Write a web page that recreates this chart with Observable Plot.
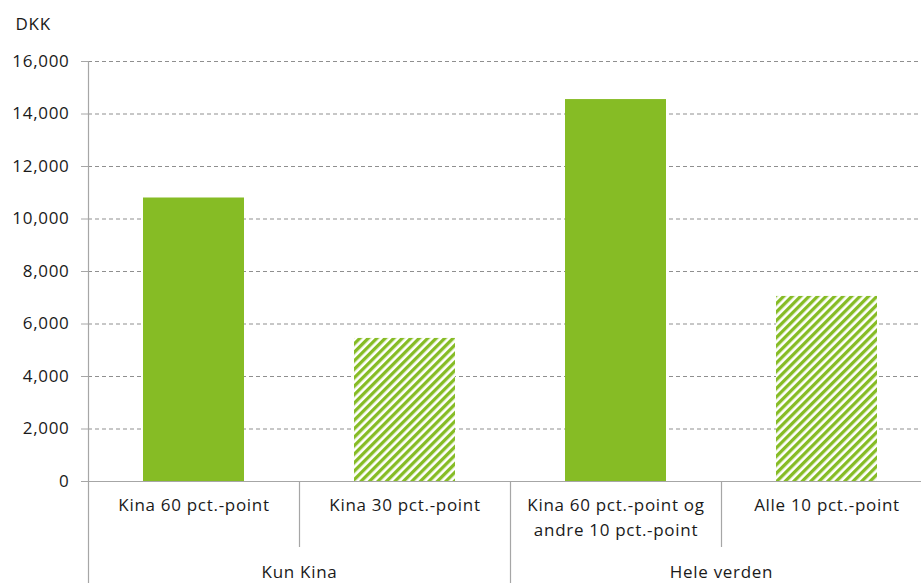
<!DOCTYPE html>
<html>
<head>
<meta charset="utf-8">
<script src="https://cdn.jsdelivr.net/npm/d3@7"></script>
<script src="https://cdn.jsdelivr.net/npm/@observablehq/plot@0.6"></script>
<style>
  html, body { margin: 0; padding: 0; background: #fff; }
  #chart svg { display: block; }
  #chart svg text { letter-spacing: 0.7px; }
</style>
</head>
<body>
<div id="chart"></div>
<script>
// ---- Data ----
const categories = [
  "Kina 60 pct.-point",
  "Kina 30 pct.-point",
  "Kina 60 pct.-point og\nandre 10 pct.-point",
  "Alle 10 pct.-point"
];
const values = [10800, 5450, 14550, 7050];
const hatched = [false, true, false, true];
const groups = ["Kun Kina", "Kun Kina", "Hele verden", "Hele verden"];
const groupLabels = ["Kun Kina", "Hele verden"];
const groupStart = [categories[0], categories[2]];
const yTicks = [0, 2000, 4000, 6000, 8000, 10000, 12000, 14000, 16000];
const unitLabel = "DKK";

const GREEN = "#86bc25";
const AXIS = "#a6a6a6";
const GRID = "#8f8f8f";
const TEXT = "#1a1a1a";
const FS = 17;

const data = categories.map((c, i) => ({category: c, value: values[i], hatched: hatched[i], group: groups[i]}));
const groupData = groupLabels.map((g, i) => ({label: g, first: groupStart[i]}));

const HALF_STEP = 105.5;

const svg = Plot.plot({
  width: 921,
  height: 583,
  marginLeft: 88,
  marginRight: 0,
  marginTop: 61,
  marginBottom: 102,
  style: {fontFamily: "'Open Sans', sans-serif", fontSize: FS + "px", color: TEXT, overflow: "hidden", background: "#fff"},
  x: {domain: categories, range: [88.5, 932.5], paddingInner: 0.52, paddingOuter: 0.26, axis: null},
  y: {domain: [0, 16000], axis: null},
  color: {type: "identity"},
  marks: [
    Plot.gridY(yTicks.filter(d => d > 0), {stroke: GRID, strokeOpacity: 1, strokeDasharray: "4,3"}),
    Plot.barY(data, {x: "category", y: "value", fill: d => d.hatched ? "url(#hatch)" : GREEN}),
    Plot.ruleY([0], {stroke: AXIS, strokeWidth: 1.2}),
    Plot.axisY({ticks: yTicks, tickFormat: d3.format(","), tickSize: 7, tickPadding: 12, stroke: AXIS, fill: TEXT, fontSize: FS, label: null}),
    Plot.axisX({tickSize: 0, tickPadding: 12, lineHeight: 1.47, fill: TEXT, fontSize: FS, label: null}),
    // y axis line, extended down through the category area
    Plot.ruleX([categories[0]], {x: d => d, dx: -HALF_STEP, insetBottom: -102, stroke: AXIS, strokeWidth: 1.2}),
    // long group separator
    Plot.ruleX([categories[2]], {x: d => d, dx: -HALF_STEP, insetTop: 420, insetBottom: -102, stroke: AXIS, strokeWidth: 1.2}),
    // short category separators
    Plot.ruleX([categories[1], categories[3]], {x: d => d, dx: -HALF_STEP, insetTop: 420, insetBottom: -66, stroke: AXIS, strokeWidth: 1.2}),
    // group labels
    Plot.text(groupData, {x: "first", text: "label", dx: HALF_STEP, frameAnchor: "bottom", dy: 96, fill: TEXT, fontSize: FS}),
    // unit label
    Plot.text([unitLabel], {frameAnchor: "top-left", dx: -73, dy: -44, fill: TEXT, fontSize: FS, textAnchor: "start"})
  ]
});

const defs = d3.select(svg).insert("defs", ":first-child");
const pat = defs.append("pattern")
  .attr("id", "hatch")
  .attr("patternUnits", "userSpaceOnUse")
  .attr("width", 6)
  .attr("height", 6)
  .attr("patternTransform", "rotate(45)");
pat.append("rect").attr("width", 6).attr("height", 6).attr("fill", "#fff");
pat.append("rect").attr("width", 3.3).attr("height", 6).attr("fill", GREEN);

document.getElementById("chart").appendChild(svg);
</script>
</body>
</html>
